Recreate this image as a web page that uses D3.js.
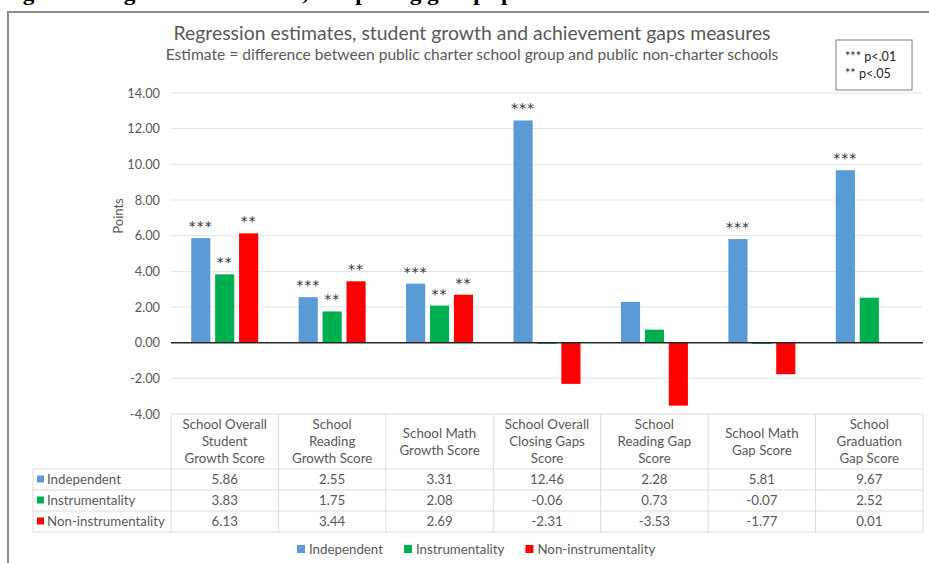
<!DOCTYPE html>
<html>
<head>
<meta charset="utf-8">
<script src="https://cdn.jsdelivr.net/npm/d3@7"></script>
<style>
  body { margin: 0; background: #fff; }
  text { font-family: Lato, "Open Sans", sans-serif; }
</style>
</head>
<body>
<script>
// chart values
const categories = [
  'School Overall\nStudent\nGrowth Score',
  'School\nReading\nGrowth Score',
  'School Math\nGrowth Score',
  'School Overall\nClosing Gaps\nScore',
  'School\nReading Gap\nScore',
  'School Math\nGap Score',
  'School\nGraduation\nGap Score'
];
const seriesNames = ['Independent', 'Instrumentality', 'Non-instrumentality'];
const independent = [5.86, 2.55, 3.31, 12.46, 2.28, 5.81, 9.67];
const instrumentality = [3.83, 1.75, 2.08, -0.06, 0.73, -0.07, 2.52];
const nonInstrumentality = [6.13, 3.44, 2.69, -2.31, -3.53, -1.77, 0.01];
const sigIndependent = ['***', '***', '***', '***', '', '***', '***'];
const sigInstrumentality = ['**', '**', '**', '', '', '', ''];
const sigNonInstrumentality = ['**', '**', '**', '', '', '', ''];
const yTicks = [-4, -2, 0, 2, 4, 6, 8, 10, 12, 14];

const colors = ['#5b9bd5', '#00b050', '#ff0000'];
const seriesValues = [independent, instrumentality, nonInstrumentality];
const seriesSig = [sigIndependent, sigInstrumentality, sigNonInstrumentality];

const width = 929,
  height = 563;
const grey = '#595959';
const fmt = d3.formatLocale({ decimal: '.', thousands: ',', grouping: [3], currency: ['', ''], minus: '-' }).format('.2f');

const svg = d3
  .select('body')
  .append('svg')
  .attr('width', width)
  .attr('height', height);

// cut-off caption of the page above the chart
svg
  .append('text')
  .attr('x', 2)
  .attr('y', 0)
  .attr('textLength', 512)
  .attr('lengthAdjust', 'spacingAndGlyphs')
  .style('font-family', '"Liberation Serif", serif')
  .style('font-weight', 'bold')
  .style('font-size', '22px')
  .attr('fill', '#000')
  .text('Figure 9. Regression estimates, comparing groups p');

// frame
svg
  .append('path')
  .attr('d', `M8,${height} V12 H${width}`)
  .attr('fill', 'none')
  .attr('stroke', '#8c8c8c')
  .attr('stroke-width', 2);

// titles
svg
  .append('text')
  .attr('x', 472)
  .attr('y', 40)
  .attr('text-anchor', 'middle')
  .attr('fill', grey)
  .style('font-size', '19.4px')
  .text('Regression estimates, student growth and achievement gaps measures');

svg
  .append('text')
  .attr('x', 472)
  .attr('y', 60)
  .attr('text-anchor', 'middle')
  .attr('fill', grey)
  .style('font-size', '15.6px')
  .text('Estimate = difference between public charter school group and public non-charter schools');

// p-value box
const pbox = svg.append('g').attr('transform', 'translate(836,40)');
pbox
  .append('rect')
  .attr('width', 76)
  .attr('height', 50)
  .attr('fill', '#fff')
  .attr('stroke', '#7f7f7f');
pbox
  .selectAll('text')
  .data(['*** p<.01', '** p<.05'])
  .enter()
  .append('text')
  .attr('x', 9)
  .attr('y', (d, i) => 21 + i * 17)
  .attr('fill', '#262626')
  .style('font-size', '12.6px')
  .text(d => d);

// scales
const left = 171,
  right = 923;
const x0 = d3.scaleBand().domain(d3.range(categories.length)).range([left, right]);
const bw = x0.bandwidth();
const groupW = 67;
const x1 = d3
  .scaleBand()
  .domain(d3.range(seriesNames.length))
  .range([(bw - groupW) / 2, (bw + groupW) / 2])
  .paddingInner(0.2);
const y = d3.scaleLinear().domain([-4, 14]).range([414, 93]);

// grid
svg
  .append('g')
  .selectAll('line')
  .data(yTicks.filter(d => d !== 0 && d !== -4))
  .enter()
  .append('line')
  .attr('x1', left)
  .attr('x2', right)
  .attr('y1', d => y(d))
  .attr('y2', d => y(d))
  .attr('stroke', '#e3e3e3');

// y axis
const yAxis = svg
  .append('g')
  .attr('transform', 'translate(163,0)')
  .call(d3.axisLeft(y).tickValues(yTicks).tickFormat(fmt).tickSize(0));
yAxis.select('.domain').remove();
yAxis
  .selectAll('text')
  .attr('fill', grey)
  .style('font-size', '12.8px')
  .style('font-family', 'Lato, sans-serif');

svg
  .append('text')
  .attr('transform', 'translate(123,216) rotate(-90)')
  .attr('text-anchor', 'middle')
  .attr('fill', grey)
  .style('font-size', '13px')
  .text('Points');

// bars
const groups = svg
  .append('g')
  .selectAll('g')
  .data(categories)
  .enter()
  .append('g')
  .attr('transform', (d, i) => `translate(${x0(i)},0)`);

seriesNames.forEach((s, si) => {
  groups
    .append('rect')
    .attr('x', x1(si))
    .attr('width', x1.bandwidth())
    .attr('y', (d, i) => y(Math.max(0, seriesValues[si][i])))
    .attr('height', (d, i) => Math.abs(y(seriesValues[si][i]) - y(0)))
    .attr('fill', colors[si]);

  groups
    .append('text')
    .attr('x', x1(si) + x1.bandwidth() / 2)
    .attr('y', (d, i) => y(Math.max(0, seriesValues[si][i])) - 7)
    .attr('text-anchor', 'middle')
    .attr('fill', '#333')
    .style('font-size', '14px')
    .style('font-family', '"DejaVu Sans", sans-serif')
    .style('letter-spacing', '1px')
    .text((d, i) => seriesSig[si][i]);
});

// zero line
svg
  .append('line')
  .attr('x1', left)
  .attr('x2', right)
  .attr('y1', y(0))
  .attr('y2', y(0))
  .attr('stroke', '#262626')
  .attr('stroke-width', 1.5);

// data table
const tableTop = 414,
  headH = 55,
  rowH = 21,
  labelLeft = 33;
const tbl = svg.append('g');
const border = '#dcdcdc';
const tfs = '13.3px';

tbl
  .append('line')
  .attr('x1', left)
  .attr('x2', right)
  .attr('y1', tableTop)
  .attr('y2', tableTop)
  .attr('stroke', border);
d3.range(seriesNames.length + 1).forEach(r => {
  const yy = tableTop + headH + r * rowH;
  tbl
    .append('line')
    .attr('x1', labelLeft)
    .attr('x2', right)
    .attr('y1', yy)
    .attr('y2', yy)
    .attr('stroke', border);
});
d3.range(categories.length + 1).forEach(c => {
  const xx = left + c * bw;
  tbl
    .append('line')
    .attr('x1', xx)
    .attr('x2', xx)
    .attr('y1', tableTop)
    .attr('y2', tableTop + headH + 3 * rowH)
    .attr('stroke', border);
});
tbl
  .append('line')
  .attr('x1', labelLeft)
  .attr('x2', labelLeft)
  .attr('y1', tableTop + headH)
  .attr('y2', tableTop + headH + 3 * rowH)
  .attr('stroke', border);

// header text
categories.forEach((c, i) => {
  const lines = c.split('\n');
  const cy = tableTop + headH / 2;
  tbl
    .append('text')
    .attr('text-anchor', 'middle')
    .attr('fill', grey)
    .style('font-size', tfs)
    .selectAll('tspan')
    .data(lines)
    .enter()
    .append('tspan')
    .attr('x', x0(i) + bw / 2)
    .attr('y', (d, j) => cy + (j - (lines.length - 1) / 2) * 17)
    .attr('dy', '0.35em')
    .text(d => d);
});

// rows
seriesNames.forEach((s, si) => {
  const cy = tableTop + headH + si * rowH + rowH / 2;
  tbl
    .append('rect')
    .attr('x', 37)
    .attr('y', cy - 4)
    .attr('width', 7)
    .attr('height', 7)
    .attr('fill', colors[si]);
  tbl
    .append('text')
    .attr('x', 47)
    .attr('y', cy)
    .attr('dy', '0.35em')
    .attr('fill', grey)
    .style('font-size', tfs)
    .text(s);
  seriesValues[si].forEach((v, i) => {
    tbl
      .append('text')
      .attr('x', x0(i) + bw / 2)
      .attr('y', cy)
      .attr('dy', '0.35em')
      .attr('text-anchor', 'middle')
      .attr('fill', grey)
      .style('font-size', tfs)
      .text(fmt(v));
  });
});

// bottom legend
const legend = svg.append('g').attr('transform', 'translate(0,549)');
let lx = 297;
seriesNames.forEach((s, si) => {
  legend
    .append('rect')
    .attr('x', lx)
    .attr('y', -4)
    .attr('width', 8)
    .attr('height', 8)
    .attr('fill', colors[si]);
  const t = legend
    .append('text')
    .attr('x', lx + 12)
    .attr('dy', '0.35em')
    .attr('fill', grey)
    .style('font-size', tfs)
    .text(s);
  lx += 12 + t.node().getComputedTextLength() + 21;
});
</script>
</body>
</html>
